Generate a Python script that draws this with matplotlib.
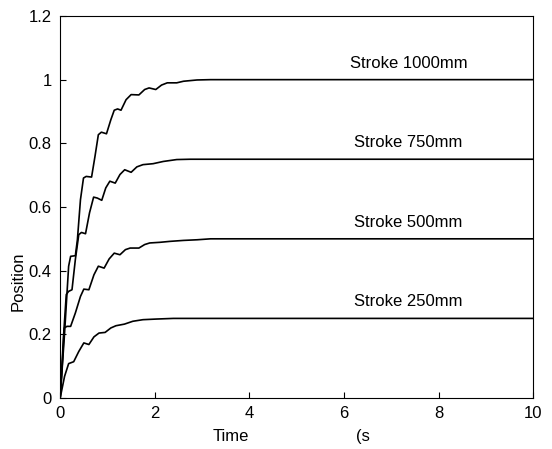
import matplotlib
matplotlib.use("Agg")
import matplotlib.pyplot as plt
import numpy as np

plt.rcParams['font.family'] = ['Liberation Sans', 'DejaVu Sans']

# step responses (time in s, position)
t_1000 = [0, 0.093, 0.179, 0.221, 0.321, 0.364, 0.429, 0.493, 0.55, 0.664, 0.736, 0.807,
          0.871, 0.979, 1.071, 1.143, 1.214, 1.286, 1.393, 1.5, 1.664, 1.786, 1.879, 2.021,
          2.143, 2.264, 2.464, 2.607, 2.893, 3.18, 10]
y_1000 = [0, 0.204, 0.414, 0.445, 0.447, 0.497, 0.623, 0.691, 0.696, 0.694, 0.759, 0.827,
          0.835, 0.830, 0.874, 0.904, 0.908, 0.904, 0.937, 0.953, 0.952, 0.969, 0.974, 0.969,
          0.983, 0.990, 0.990, 0.995, 0.999, 1.0, 1.0]

t_750 = [0, 0.071, 0.129, 0.179, 0.25, 0.321, 0.393, 0.45, 0.536, 0.621, 0.707, 0.786,
         0.879, 0.964, 1.05, 1.164, 1.264, 1.364, 1.5, 1.621, 1.75, 1.964, 2.179, 2.464,
         2.75, 10]
y_750 = [0, 0.194, 0.325, 0.335, 0.340, 0.435, 0.513, 0.520, 0.516, 0.582, 0.631, 0.628,
         0.621, 0.660, 0.681, 0.675, 0.702, 0.717, 0.709, 0.726, 0.733, 0.736, 0.743, 0.749,
         0.75, 0.75]

t_500 = [0, 0.05, 0.086, 0.143, 0.221, 0.321, 0.429, 0.5, 0.607, 0.714, 0.807, 0.929,
         1.036, 1.143, 1.264, 1.379, 1.479, 1.664, 1.786, 1.893, 2.107, 2.321, 2.607, 2.893,
         3.18, 10]
y_500 = [0, 0.12, 0.22, 0.225, 0.225, 0.267, 0.319, 0.342, 0.340, 0.387, 0.414, 0.408,
         0.437, 0.455, 0.450, 0.466, 0.471, 0.471, 0.482, 0.487, 0.489, 0.492, 0.495, 0.497,
         0.5, 0.5]

t_250 = [0, 0.093, 0.179, 0.286, 0.393, 0.5, 0.607, 0.714, 0.821, 0.95, 1.071, 1.179,
         1.357, 1.536, 1.75, 2.036, 2.393, 10]
y_250 = [0, 0.068, 0.108, 0.114, 0.146, 0.173, 0.168, 0.192, 0.204, 0.206, 0.220, 0.227,
         0.232, 0.241, 0.246, 0.248, 0.25, 0.25]

labels = ['Stroke 1000mm', 'Stroke 750mm', 'Stroke 500mm', 'Stroke 250mm']
finals = [1.0, 0.75, 0.5, 0.25]

fig = plt.figure(figsize=(5.52, 4.49), dpi=100)
ax = fig.add_axes([0.109, 0.1136, 0.857, 0.8508])

for tt, yy in [(t_1000, y_1000), (t_750, y_750), (t_500, y_500), (t_250, y_250)]:
    ax.plot(tt, yy, color='black', lw=1.2, solid_joinstyle='round')

for lab, v in zip(labels, finals):
    ax.text(7.36, v + 0.038, lab, ha='center', va='baseline', fontsize=12)

ax.set_xlim(0, 10)
ax.set_ylim(0, 1.2)
ax.set_xticks(np.arange(0, 11, 2))
ax.set_yticks(np.arange(0, 1.21, 0.2))
ax.set_yticklabels(['0', '0.2', '0.4', '0.6', '0.8', '1', '1.2'])
ax.tick_params(direction='in', length=4, labelsize=12, pad=6)

ax.text(3.6, -0.12, 'Time', ha='center', va='center', fontsize=12)
ax.text(6.4, -0.12, '(s', ha='center', va='center', fontsize=12)
ax.text(-0.088, 0.367, 'Position', rotation=90, ha='center', va='center',
        fontsize=12, transform=ax.get_yaxis_transform())

plt.savefig('out.png', dpi=100)
